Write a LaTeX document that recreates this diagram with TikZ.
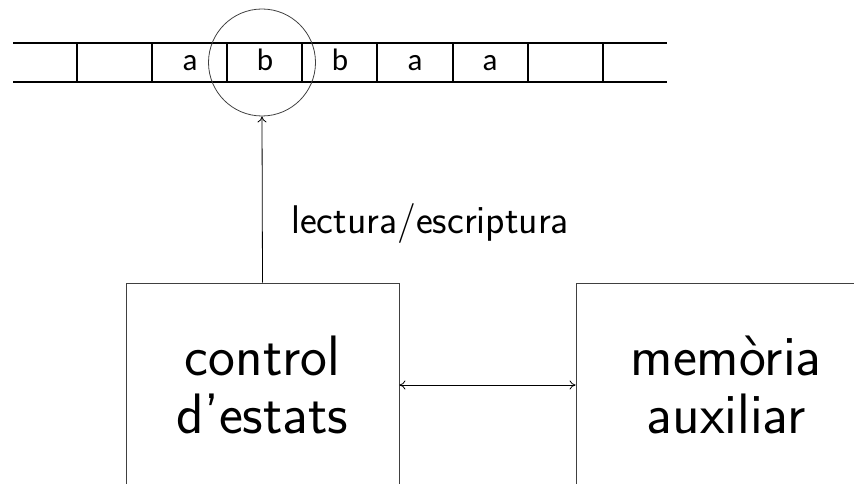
\documentclass[tikz,border=0pt]{standalone}
\usepackage{fontspec}
\newfontfamily\tapefont{Carlito}
\usetikzlibrary{arrows.meta}
\begin{document}
\begin{tikzpicture}[x=1pt,y=-1pt,
  tapeline/.style={line width=2pt,black},
  symb/.style={font=\tapefont\fontsize{31}{32}\selectfont,inner sep=0pt,anchor=base},
  unitbox/.style={draw=black!75,line width=0.8pt,rectangle,inner sep=0pt,
    minimum height=204pt,align=center,
    font=\sffamily\fontsize{57}{58}\selectfont},
  headcirc/.style={draw=black!75,line width=0.8pt,circle,inner sep=0pt,minimum size=107pt},
  link/.style={line width=0.8pt,black,arrows={-To[length=6pt,width=9pt]}},
  biglabel/.style={font=\sffamily\fontsize{40}{42}\selectfont,inner sep=0pt}
]
\useasboundingbox (0,0) rectangle (854,484);
\clip (0,0) rectangle (854,484);

% tape
\draw[tapeline] (13,43) -- (667,43);
\draw[tapeline] (13,82) -- (667,82);
\foreach \x in {77,152,227,302,377,453,528,603}
  \draw[tapeline] (\x,43) -- (\x,82);

% tape symbols
\node[symb] (s3) at (190,70.5) {a};
\node[symb] (s4) at (265,70.5) {b};
\node[symb] (s5) at (340,70.5) {b};
\node[symb] (s6) at (415,70.5) {a};
\node[symb] (s7) at (490,70.5) {a};

% read/write head
\node[headcirc] (head) at (262,62.5) {};

% units
\node[unitbox,minimum width=273pt] (ctrl) at (262.5,385) {control\\d’estats};
\node[unitbox,minimum width=300pt] (mem) at (726,385) {memòria\\auxiliar};

% connectors
\draw[link] (ctrl.north) -- (head.south);
\draw[link,arrows={To[length=6pt,width=9pt]-To[length=6pt,width=9pt]}] (ctrl.east) -- (mem.west);

\node[biglabel,anchor=base west] (rw) at (291,233) {lectura/escriptura};
\end{tikzpicture}
\end{document}
